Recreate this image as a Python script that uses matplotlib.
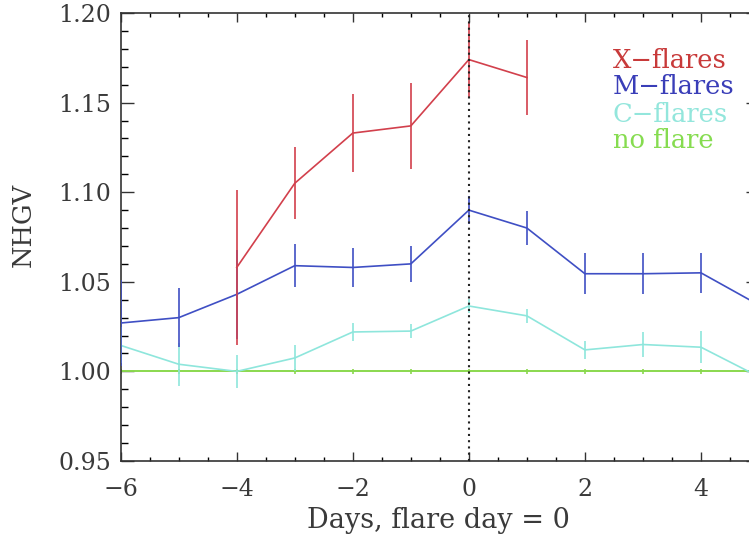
import matplotlib
matplotlib.use("Agg")
import matplotlib.pyplot as plt
from matplotlib.ticker import MultipleLocator, FixedLocator

# ---- data ----
days = [-6, -5, -4, -3, -2, -1, 0, 1, 2, 3, 4, 5]

x_days = [-4, -3, -2, -1, 0, 1]
x_vals = [1.058, 1.105, 1.133, 1.137, 1.174, 1.164]
x_err = [0.043, 0.020, 0.022, 0.024, 0.021, 0.021]

m_vals = [1.027, 1.030, 1.043, 1.059, 1.058, 1.060, 1.090, 1.080, 1.0545, 1.0545, 1.055, 1.037]
m_err = [0.024, 0.0165, 0.025, 0.012, 0.011, 0.010, 0.008, 0.0095, 0.0115, 0.0115, 0.011, 0.012]

c_vals = [1.0145, 1.004, 1.000, 1.0075, 1.022, 1.0225, 1.0365, 1.031, 1.012, 1.015, 1.0135, 0.997]
c_err = [0.010, 0.012, 0.009, 0.007, 0.005, 0.004, 0.004, 0.004, 0.005, 0.007, 0.009, 0.009]

n_vals = [1.0] * len(days)
n_err = [0.0012] * len(days)

legend_labels = ["X\u2212flares", "M\u2212flares", "C\u2212flares", "no flare"]
x_ticks = [-6, -4, -2, 0, 2, 4]
y_ticks = [0.95, 1.00, 1.05, 1.10, 1.15, 1.20]

# ---- style ----
col_x = "#d2404c"
col_m = "#3f4fc4"
col_c = "#8ee6dc"
col_n = "#8ad84e"
txt_cols = ["#c83a3a", "#3a3eb8", "#93e6dc", "#86dc50"]
font = "DejaVu Serif"
tcol = "#3a3a3a"

W, H = 749, 537
fig = plt.figure(figsize=(W / 100, H / 100), dpi=100)
left, right, top, bottom = 120.7, 759.0, 13.0, 461.0
ax = fig.add_axes([left / W, 1 - bottom / H, (right - left) / W, (bottom - top) / H])

ax.set_xlim(-6, 5)
ax.set_ylim(0.95, 1.20)

lw = 1.2
ax.errorbar(days, n_vals, yerr=n_err, color=col_n, lw=1.4, elinewidth=lw, capsize=0, zorder=2)
ax.errorbar(days, c_vals, yerr=c_err, color=col_c, lw=lw, elinewidth=lw, capsize=0, zorder=3)
ax.errorbar(days, m_vals, yerr=m_err, color=col_m, lw=lw, elinewidth=lw, capsize=0, zorder=4)
ax.errorbar(x_days, x_vals, yerr=x_err, color=col_x, lw=lw, elinewidth=lw, capsize=0, zorder=5)
ax.axvline(0, color="#222222", lw=1.5, ls=(0, (1, 2.0)), zorder=6)

for sp in ax.spines.values():
    sp.set_linewidth(1.2)
    sp.set_color("#333333")

ax.xaxis.set_major_locator(FixedLocator(x_ticks))
ax.xaxis.set_minor_locator(MultipleLocator(0.5))
ax.yaxis.set_major_locator(FixedLocator(y_ticks))
ax.yaxis.set_minor_locator(MultipleLocator(0.01))
ax.set_xticklabels([("\u2212%d" % -t) if t < 0 else "%d" % t for t in x_ticks])
ax.set_yticklabels(["%.2f" % t for t in y_ticks])

ax.tick_params(axis="x", which="major", direction="in", length=6.5, width=1.0,
               top=True, bottom=True, pad=12, labelsize=17, colors="#333333")
ax.tick_params(axis="x", which="minor", direction="in", length=3.0, width=1.0,
               top=True, bottom=True)
ax.tick_params(axis="y", which="major", direction="in", length=9.4, width=1.0,
               left=True, right=True, pad=7, labelsize=17, colors="#333333")
ax.tick_params(axis="y", which="minor", direction="in", length=5.0, width=1.0,
               left=True, right=True)
for lab in ax.get_xticklabels() + ax.get_yticklabels():
    lab.set_fontfamily(font)
    lab.set_color(tcol)

fig.text(23 / W, 1 - 225 / H, "NHGV", rotation=90, ha="center", va="center",
         fontsize=18.5, family=font, color=tcol)
fig.text(438 / W, 1 - 521 / H, "Days, flare day = 0", ha="center", va="center",
         fontsize=19.5, family=font, color=tcol)

ys = [60, 87, 114, 140]
for lab, c, yy in zip(legend_labels, txt_cols, ys):
    fig.text(613 / W, 1 - yy / H, lab, ha="left", va="center", fontsize=18.5,
             family=font, color=c)

fig.savefig("out.png", dpi=100)
